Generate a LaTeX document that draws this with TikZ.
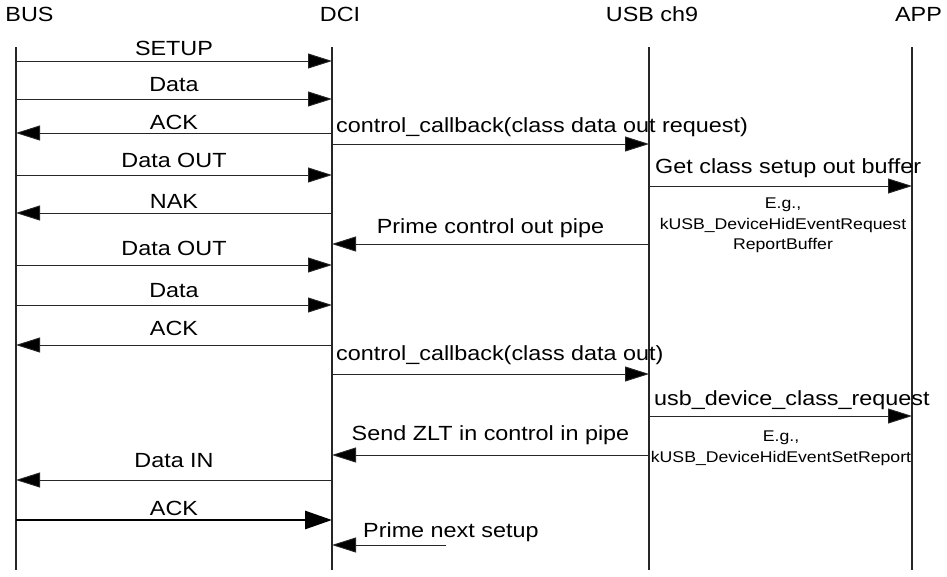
\documentclass[tikz,border=0pt]{standalone}
\usepackage{fontspec}
\setmainfont[FakeStretch=1.14]{Liberation Sans}
\usetikzlibrary{arrows.meta, positioning}

\begin{document}
\begin{tikzpicture}[
    x=1pt, y=-1pt,
    lifeline/.style={draw=black!85, line width=1.2pt},
    msg/.style={draw=black!85, line width=0.9pt, -{Triangle[length=24pt, width=15pt, fill=black]}},
    thickmsg/.style={draw=black, line width=2.8pt, -{Triangle[length=27pt, width=18pt]}},
    head/.style={font=\fontsize{20.5}{24}\selectfont, anchor=base, inner sep=0pt},
    lbl/.style={font=\fontsize{20.5}{24}\selectfont, anchor=base, inner sep=0pt},
    note/.style={font=\fontsize{15.5}{20.5}\selectfont, align=center, anchor=north, inner sep=0pt}
  ]
  \useasboundingbox (0,0) rectangle (947,576);

  % lifelines
  \coordinate (bus) at (16,47);
  \coordinate (dci) at (332,47);
  \coordinate (usb) at (649,47);
  \coordinate (app) at (912,47);
  \foreach \l in {bus,dci,usb,app}
    \draw[lifeline] (\l) -- (\l |- 0,570);

  \node[head] (busH) at (29.5,21) {BUS};
  \node[head] (dciH) at (340,21) {DCI};
  \node[head] (usbH) at (652,21) {USB ch9};
  \node[head] (appH) at (918.5,21) {APP};

  % bus <-> dci
  \foreach \a/\b/\y/\s/\t in {bus/dci/61/6/SETUP, bus/dci/99/8/Data, dci/bus/133/4/ACK,
      bus/dci/175/8/Data OUT, dci/bus/213/5/NAK, bus/dci/265/10/Data OUT,
      bus/dci/305/8/Data, dci/bus/345/10/ACK, dci/bus/480/13/Data IN}
  {
    \path (0,\y) coordinate (row);
    \draw[msg] (\a |- row) -- (\b |- row) node[lbl, midway, yshift=\s pt] (m\y) {\t};
  }
  \path (0,520) coordinate (ackrow);
  \draw[thickmsg] (bus |- ackrow) -- (dci |- ackrow) node[lbl, midway, yshift=5pt] (ack2) {ACK};

  % dci <-> usb ch9
  \path (0,144) coordinate (cb1);
  \draw[msg] (dci |- cb1) -- (usb |- cb1);
  \node[lbl, anchor=base west] (cb1L) at (336,132) {control\_callback(class data out request)};
  \path (0,244) coordinate (prime);
  \draw[msg] (usb |- prime) -- (dci |- prime) node[lbl, midway, yshift=11pt] (primeL) {Prime control out pipe};
  \path (0,374) coordinate (cb2);
  \draw[msg] (dci |- cb2) -- (usb |- cb2);
  \node[lbl, anchor=base west] (cb2L) at (336,360) {control\_callback(class data out)};
  \path (0,455) coordinate (zlt);
  \draw[msg] (usb |- zlt) -- (dci |- zlt) node[lbl, midway, yshift=15pt] (zltL) {Send ZLT in control in pipe};
  \coordinate (next) at (446,545);
  \draw[msg] (next) -- (dci |- next);
  \node[lbl, anchor=base west] (nextL) at (363,537) {Prime next setup};

  % usb ch9 -> app
  \path (0,186) coordinate (getbuf);
  \draw[msg] (usb |- getbuf) -- (app |- getbuf);
  \node[lbl, anchor=base west] (getbufL) at (655,173) {Get class setup out buffer};
  \node[note] (getbufN) at (783,198) {E.g.,\\kUSB\_DeviceHidEventRequest\\ReportBuffer};
  \path (0,416) coordinate (req);
  \draw[msg] (usb |- req) -- (app |- req);
  \node[lbl, anchor=base west] (reqL) at (654,405) {usb\_device\_class\_request};
  \node[note] (reqN) at (781,431) {E.g.,\\kUSB\_DeviceHidEventSetReport};
\end{tikzpicture}
\end{document}
